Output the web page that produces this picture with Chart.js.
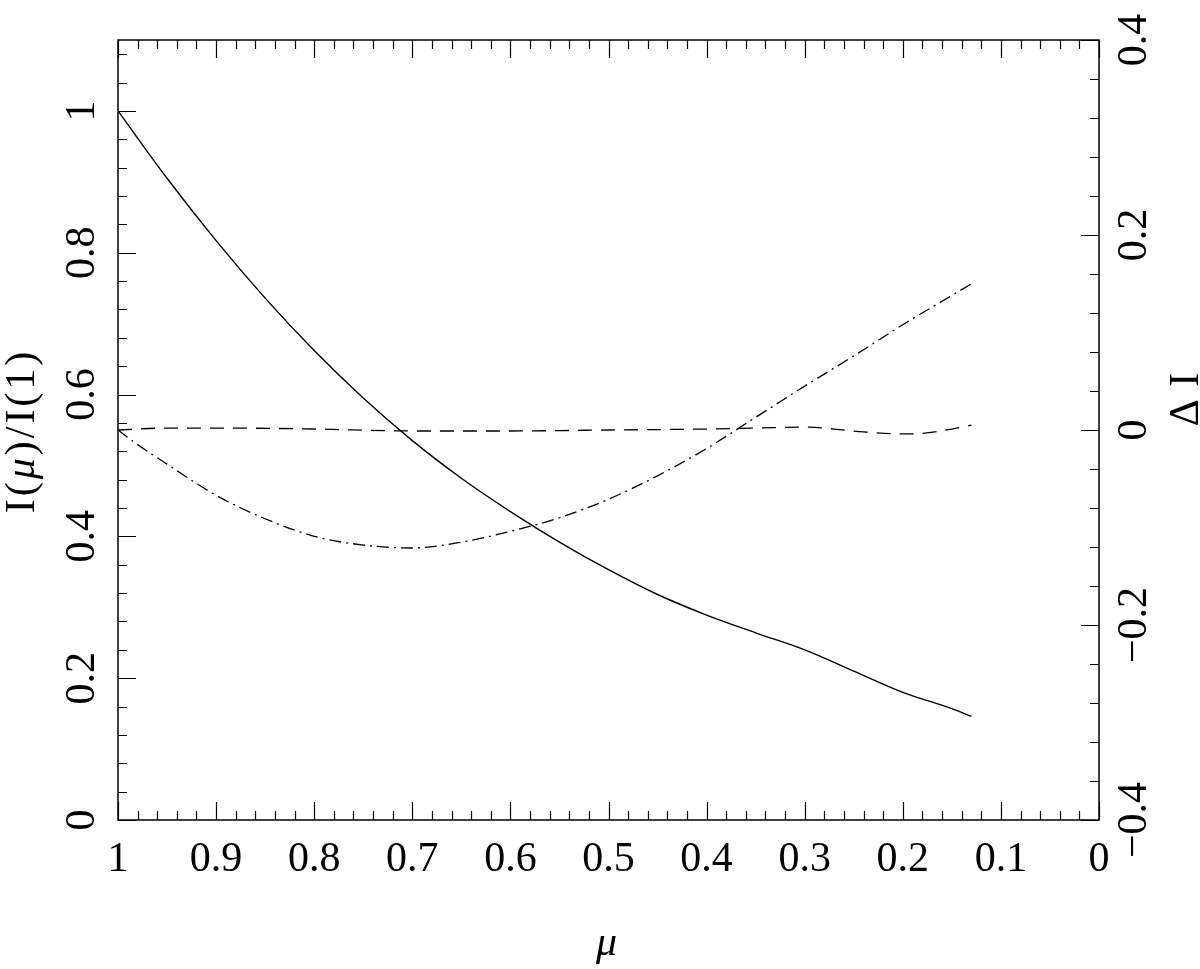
<!DOCTYPE html>
<html>
<head>
<meta charset="utf-8">
<script src="https://cdn.jsdelivr.net/npm/chart.js@4.4.1/dist/chart.umd.min.js"></script>
<style>
  body { margin: 0; background: #fff; }
  #wrap { width: 1200px; height: 969px; }
</style>
</head>
<body>
<div id="wrap"><canvas id="myChart" width="1200" height="969"></canvas></div>
<script>
// solid curve, left axis I(mu)/I(1)
const muSolid = [1.0, 0.95, 0.9, 0.85, 0.8, 0.75, 0.7, 0.65, 0.6, 0.55, 0.5, 0.45, 0.4, 0.35, 0.3, 0.25, 0.2, 0.15, 0.13];
const intensity = [1.0, 0.905, 0.817, 0.736, 0.662, 0.595, 0.535, 0.482, 0.435, 0.392, 0.353, 0.318, 0.289, 0.264, 0.240, 0.210, 0.180, 0.157, 0.146];

// dashed curve, right axis Delta I
const muDashed = [1.0, 0.95, 0.9, 0.8, 0.7, 0.6, 0.5, 0.4, 0.35, 0.3, 0.27, 0.24, 0.2, 0.18, 0.15, 0.13];
const deltaDashed = [0.0, 0.002, 0.002, 0.001, -0.001, -0.001, 0.0, 0.001, 0.002, 0.003, 0.001, -0.002, -0.004, -0.0035, 0.001, 0.005];

// dash-dot curve, right axis Delta I
const muDashDot = [1.0, 0.98, 0.95, 0.9, 0.85, 0.8, 0.75, 0.7, 0.65, 0.6, 0.55, 0.5, 0.45, 0.4, 0.35, 0.3, 0.25, 0.2, 0.15, 0.13];
const deltaDashDot = [0.0, -0.015, -0.035, -0.067, -0.091, -0.109, -0.118, -0.121, -0.115, -0.104, -0.090, -0.071, -0.047, -0.019, 0.013, 0.045, 0.076, 0.108, 0.138, 0.150];

// tick labels
const xTicks = [1, 0.9, 0.8, 0.7, 0.6, 0.5, 0.4, 0.3, 0.2, 0.1, 0];
const xTickLabels = ['1', '0.9', '0.8', '0.7', '0.6', '0.5', '0.4', '0.3', '0.2', '0.1', '0'];
const yTicks = [0, 0.2, 0.4, 0.6, 0.8, 1];
const yTickLabels = ['0', '0.2', '0.4', '0.6', '0.8', '1'];
const y2Ticks = [-0.4, -0.2, 0, 0.2, 0.4];
const y2TickLabels = ['\u22120.4', '\u22120.2', '0', '0.2', '0.4'];

const toXY = (xs, ys) => xs.map((x, i) => ({x: x, y: ys[i]}));

const FONT = '"Liberation Serif", "DejaVu Serif", serif';
const FSIZE = 42;

function drawRich(ctx, parts, x, y, rot, spacing) {
    ctx.save();
    ctx.translate(x, y);
    ctx.rotate(rot);
    ctx.letterSpacing = (spacing || 0) + 'px';
    let total = 0;
    parts.forEach(p => { ctx.font = p.font; total += ctx.measureText(p.text).width; });
    let cx = -total / 2;
    ctx.textAlign = 'left';
    ctx.textBaseline = 'alphabetic';
    parts.forEach(p => {
        ctx.font = p.font;
        ctx.fillText(p.text, cx, 0);
        cx += ctx.measureText(p.text).width;
    });
    ctx.restore();
}

const framePlugin = {
    id: 'frame',
    afterDraw(chart) {
        const ctx = chart.ctx;
        const a = chart.chartArea;
        const sx = chart.scales.x, sy = chart.scales.y, sy2 = chart.scales.y2;
        const major = 18, minor = 9;
        ctx.save();
        ctx.strokeStyle = '#000';
        ctx.fillStyle = '#000';
        ctx.lineWidth = 1.5;
        ctx.strokeRect(a.left, a.top, a.right - a.left, a.bottom - a.top);

        ctx.lineWidth = 1.2;
        ctx.beginPath();
        // x ticks, top and bottom, every 0.02
        for (let i = 0; i <= 50; i++) {
            const px = Math.round(sx.getPixelForValue(i / 50)) + 0.5;
            const len = i % 5 === 0 ? major : minor;
            ctx.moveTo(px, a.bottom); ctx.lineTo(px, a.bottom - len);
            ctx.moveTo(px, a.top); ctx.lineTo(px, a.top + len);
        }
        // left ticks every 0.04
        for (let i = 0; i <= 27; i++) {
            const py = Math.round(sy.getPixelForValue(i * 0.04)) + 0.5;
            const len = i % 5 === 0 ? major : minor;
            ctx.moveTo(a.left, py); ctx.lineTo(a.left + len, py);
        }
        // right ticks every 0.04
        for (let i = -10; i <= 10; i++) {
            const py = Math.round(sy2.getPixelForValue(i * 0.04)) + 0.5;
            const len = i % 5 === 0 ? major : minor;
            ctx.moveTo(a.right, py); ctx.lineTo(a.right - len, py);
        }
        ctx.stroke();

        const normal = FSIZE + 'px ' + FONT;
        const italic = 'italic ' + FSIZE + 'px ' + FONT;
        ctx.font = normal;
        ctx.textAlign = 'center';
        ctx.textBaseline = 'alphabetic';
        xTicks.forEach((v, i) => {
            ctx.fillText(xTickLabels[i], sx.getPixelForValue(v), a.bottom + 51);
        });
        yTicks.forEach((v, i) => {
            drawRich(ctx, [{text: yTickLabels[i], font: normal}], a.left - 24, sy.getPixelForValue(v), -Math.PI / 2);
        });
        y2Ticks.forEach((v, i) => {
            drawRich(ctx, [{text: y2TickLabels[i], font: normal}], a.right + 47, sy2.getPixelForValue(v), -Math.PI / 2);
        });

        // axis titles
        drawRich(ctx, [{text: '\u03bc', font: italic}], (a.left + a.right) / 2 - 2, a.bottom + 135, 0);
        drawRich(ctx, [
            {text: 'I(', font: normal},
            {text: '\u03bc', font: italic},
            {text: ')/I(1)', font: normal}
        ], 34, 431, -Math.PI / 2, 3);
        drawRich(ctx, [{text: '\u0394 I', font: normal}], 1198, 399, -Math.PI / 2, 1);
        ctx.restore();
    }
};

const config = {
    type: 'line',
    data: {
        datasets: [{
            label: 'I(mu)/I(1)',
            data: toXY(muSolid, intensity),
            yAxisID: 'y',
            borderColor: '#000',
            borderWidth: 1.4,
            pointRadius: 0,
            cubicInterpolationMode: 'monotone'
        }, {
            label: 'Delta I dashed',
            data: toXY(muDashed, deltaDashed),
            yAxisID: 'y2',
            borderColor: '#000',
            borderWidth: 1.3,
            borderDash: [14, 9],
            pointRadius: 0,
            cubicInterpolationMode: 'monotone'
        }, {
            label: 'Delta I dash-dot',
            data: toXY(muDashDot, deltaDashDot),
            yAxisID: 'y2',
            borderColor: '#000',
            borderWidth: 1.3,
            borderDash: [12, 5, 2, 5],
            pointRadius: 0,
            cubicInterpolationMode: 'monotone'
        }]
    },
    options: {
        responsive: false,
        animation: false,
        layout: {
            padding: {left: 118, right: 101, top: 40, bottom: 149}
        },
        plugins: {
            legend: {display: false},
            title: {display: false},
            tooltip: {enabled: false}
        },
        scales: {
            x: {type: 'linear', min: 0, max: 1, reverse: true, display: false},
            y: {type: 'linear', min: 0, max: 1.1, display: false},
            y2: {type: 'linear', min: -0.4, max: 0.4, position: 'right', display: false}
        }
    },
    plugins: [framePlugin]
};

const chart = new Chart(document.getElementById('myChart'), config);
</script>
</body>
</html>
